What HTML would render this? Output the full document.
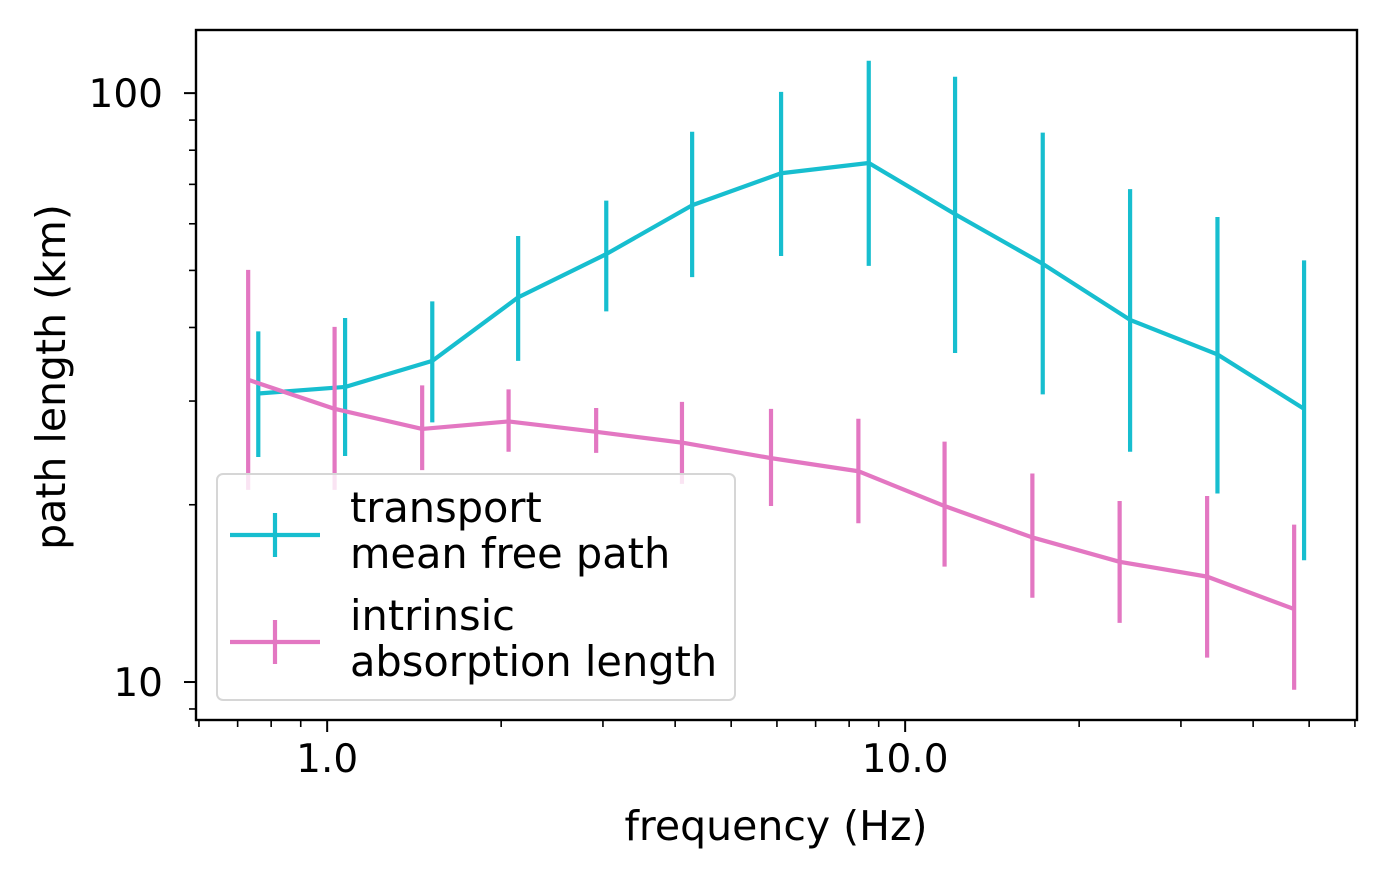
<!DOCTYPE html>
<html><head><meta charset="utf-8"><style>
html,body{margin:0;padding:0;background:#fff;}
svg{display:block;font-family:"DejaVu Sans","Liberation Sans",sans-serif;}
</style></head><body>
<svg id="chart" width="1388" height="879" viewBox="0 0 1388 879" xmlns="http://www.w3.org/2000/svg">
<rect x="0" y="0" width="1388" height="879" fill="#fff"/>
<g id="plot"></g>
</svg>
<script>
const transportFreq=[0.76,1.074,1.52,2.14,3.04,4.28,6.1,8.65,12.2,17.3,24.5,34.7,49.0];
const transportVal=[30.9,31.7,35.1,45.0,53.3,64.5,73.1,76.1,62.3,51.3,41.2,36.0,29.1];
const transportHi=[39.4,41.5,44.3,57.2,65.7,86.0,100.5,113.5,106.6,85.7,68.7,61.6,52.0];
const transportLo=[24.1,24.2,27.6,35.1,42.6,48.7,52.9,50.9,36.2,30.8,24.6,20.9,16.1];
const absorbFreq=[0.73,1.03,1.46,2.06,2.92,4.11,5.86,8.3,11.7,16.6,23.5,33.3,47.1];
const absorbVal=[32.6,29.1,26.9,27.7,26.6,25.5,24.0,22.8,19.9,17.6,16.0,15.1,13.3];
const absorbHi=[50.1,40.1,31.9,31.4,29.2,29.9,29.1,28.0,25.6,22.6,20.3,20.7,18.5];
const absorbLo=[21.2,21.2,22.9,24.6,24.5,21.7,19.9,18.6,15.7,13.9,12.6,11.0,9.7];
const xTickVals=[1,10];
const xTickLabels=["1.0","10.0"];
const yTickVals=[10,100];
const yTickLabels=["10","100"];

const L=196,R=1357,T=30,B=720;
const xMin=0.593,xMax=60.5,yMin=8.62,yMax=128;
const lx=v=>L+(Math.log10(v)-Math.log10(xMin))/(Math.log10(xMax)-Math.log10(xMin))*(R-L);
const ly=v=>B-(Math.log10(v)-Math.log10(yMin))/(Math.log10(yMax)-Math.log10(yMin))*(B-T);
const NS="http://www.w3.org/2000/svg";
const g=document.getElementById('plot');
function mk(tag,attrs,parent){const e=document.createElementNS(NS,tag);for(const k in attrs)e.setAttribute(k,attrs[k]);(parent||g).appendChild(e);return e;}

for(let d=-1;d<=1;d++)for(let m=1;m<10;m++){const v=m*Math.pow(10,d);if(v<xMin||v>xMax)continue;const x=lx(v);const major=m===1;
 const t=mk('line',{x1:x,x2:x,y1:B,y2:B+(major?12:7),stroke:'#000','stroke-width':major?2:1.6});
 
 }
for(let d=0;d<=2;d++)for(let m=1;m<10;m++){const v=m*Math.pow(10,d);if(v<yMin||v>yMax)continue;const y=ly(v);const major=m===1;
 const t=mk('line',{x1:L,x2:L-(major?12:7),y1:y,y2:y,stroke:'#000','stroke-width':major?2:1.6});
 
 }
xTickVals.forEach((v,i)=>{const t=mk('text',{x:lx(v),y:772,'text-anchor':'middle','font-size':39});t.textContent=xTickLabels[i];
 
 });
yTickVals.forEach((v,i)=>{const t=mk('text',{x:163,y:ly(v)+14,'text-anchor':'end','font-size':39});t.textContent=yTickLabels[i];
 
 });

function series(fr,val,hi,lo,color,name){
 const grp=mk('g',{});
 
 
 fr.forEach((f,i)=>{const e=mk('line',{x1:lx(f),x2:lx(f),y1:ly(hi[i]),y2:ly(lo[i]),stroke:color,'stroke-width':4.2},grp);
  
  });
 const p=mk('polyline',{points:fr.map((f,i)=>lx(f)+','+ly(val[i])).join(' '),fill:'none',stroke:color,'stroke-width':4.2,'stroke-linejoin':'round'},grp);
 
 
}
series(transportFreq,transportVal,transportHi,transportLo,'#17becf','transport');
series(absorbFreq,absorbVal,absorbHi,absorbLo,'#e377c2','absorption');

const frame=mk('rect',{x:L,y:T,width:R-L,height:B-T,fill:'none',stroke:'#000','stroke-width':2.4});



const xt=mk('text',{x:776,y:840,'text-anchor':'middle','font-size':41});xt.textContent='frequency (Hz)';


const yt=mk('text',{x:0,y:0,'text-anchor':'middle','font-size':41,transform:'translate(65,377) rotate(-90)'});yt.textContent='path length (km)';



const lg=mk('g',{});


mk('rect',{x:217,y:474,width:518,height:226,rx:6,fill:'#fff','fill-opacity':0.8,stroke:'#d6d6d6','stroke-width':2},lg);
[[535,'#17becf',['transport','mean free path'],508],[642,'#e377c2',['intrinsic','absorption length'],616]].forEach(([cy,c,txt,ty],k)=>{
 const e=mk('g',{},lg);
 
 
 mk('line',{x1:230,x2:320,y1:cy,y2:cy,stroke:c,'stroke-width':4.2},e);
 mk('line',{x1:275,x2:275,y1:cy-22,y2:cy+22,stroke:c,'stroke-width':4.2},e);
 txt.forEach((s,j)=>{const t=mk('text',{x:350,y:ty+14+j*46,'font-size':41.5},e);t.textContent=s;});
});
</script>
</body></html>
